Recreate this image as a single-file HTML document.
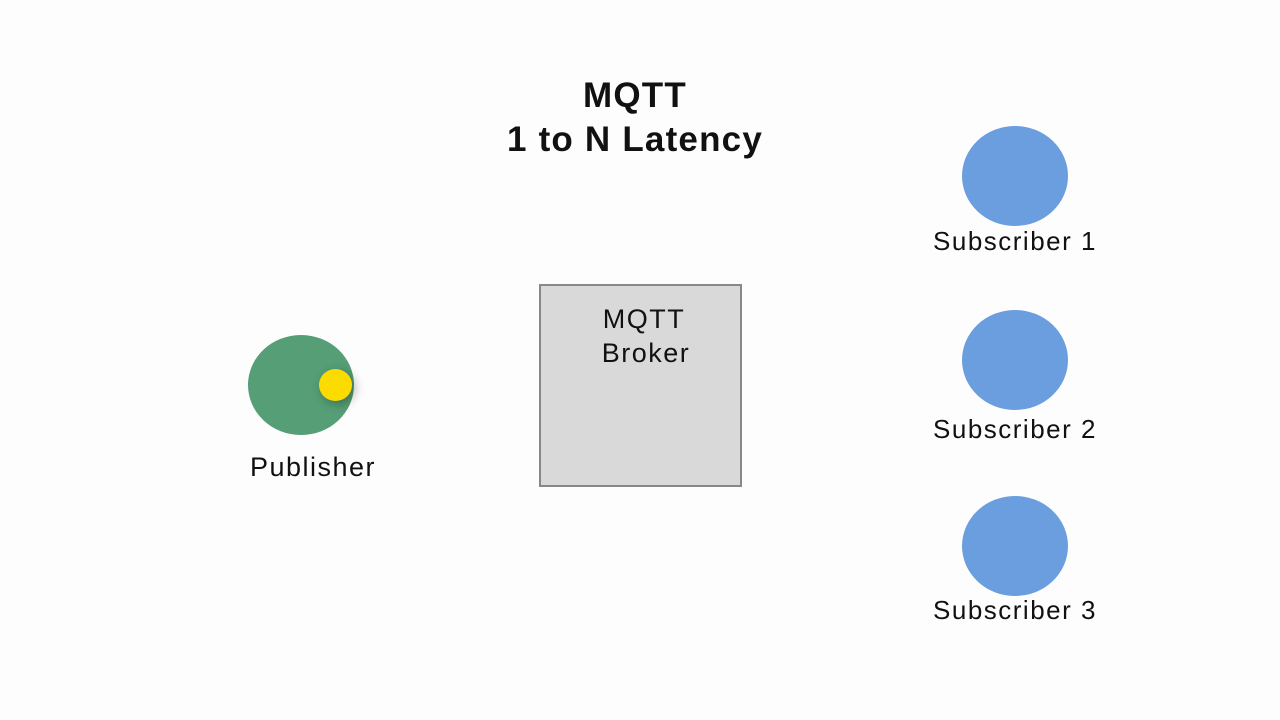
<!DOCTYPE html>
<html><head><meta charset="utf-8"><style>
html,body{margin:0;padding:0}
body{width:1280px;height:720px;background:#fdfdfd;position:relative;overflow:hidden;font-family:"Liberation Sans",sans-serif;color:#111}
.t{position:absolute;text-align:center;white-space:nowrap;letter-spacing:1.5px}
.c{position:absolute;border-radius:50%}
</style></head><body>
<div class="t" style="left:440px;width:390px;top:74px;font-size:35px;font-weight:bold;line-height:44px;letter-spacing:1.2px">MQTT<br>1 to N Latency</div>
<div class="c" style="left:248px;top:335px;width:106px;height:100px;background:#559e76"></div>
<div class="c" style="left:319px;top:369px;width:33px;height:32px;background:#fcdc00;box-shadow:3px 3px 10px rgba(0,0,0,0.3)"></div>
<div class="t" style="left:213px;width:200px;top:452px;font-size:27px">Publisher</div>
<div style="position:absolute;left:539px;top:284px;width:199px;height:199px;border:2px solid #888;background:#d9d9d9"></div>
<div class="t" style="left:540px;width:200px;top:302px;font-size:27px;line-height:34px"><span style="position:relative;left:4px">MQTT</span><br><span style="position:relative;left:6px">Broker</span></div>
<div class="c" style="left:962px;top:126px;width:106px;height:100px;background:#6a9ede"></div>
<div class="t" style="left:915px;width:200px;top:226px;font-size:26px">Subscriber 1</div>
<div class="c" style="left:962px;top:310px;width:106px;height:100px;background:#6a9ede"></div>
<div class="t" style="left:915px;width:200px;top:414px;font-size:26px">Subscriber 2</div>
<div class="c" style="left:962px;top:496px;width:106px;height:100px;background:#6a9ede"></div>
<div class="t" style="left:915px;width:200px;top:595px;font-size:26px">Subscriber 3</div>
</body></html>
